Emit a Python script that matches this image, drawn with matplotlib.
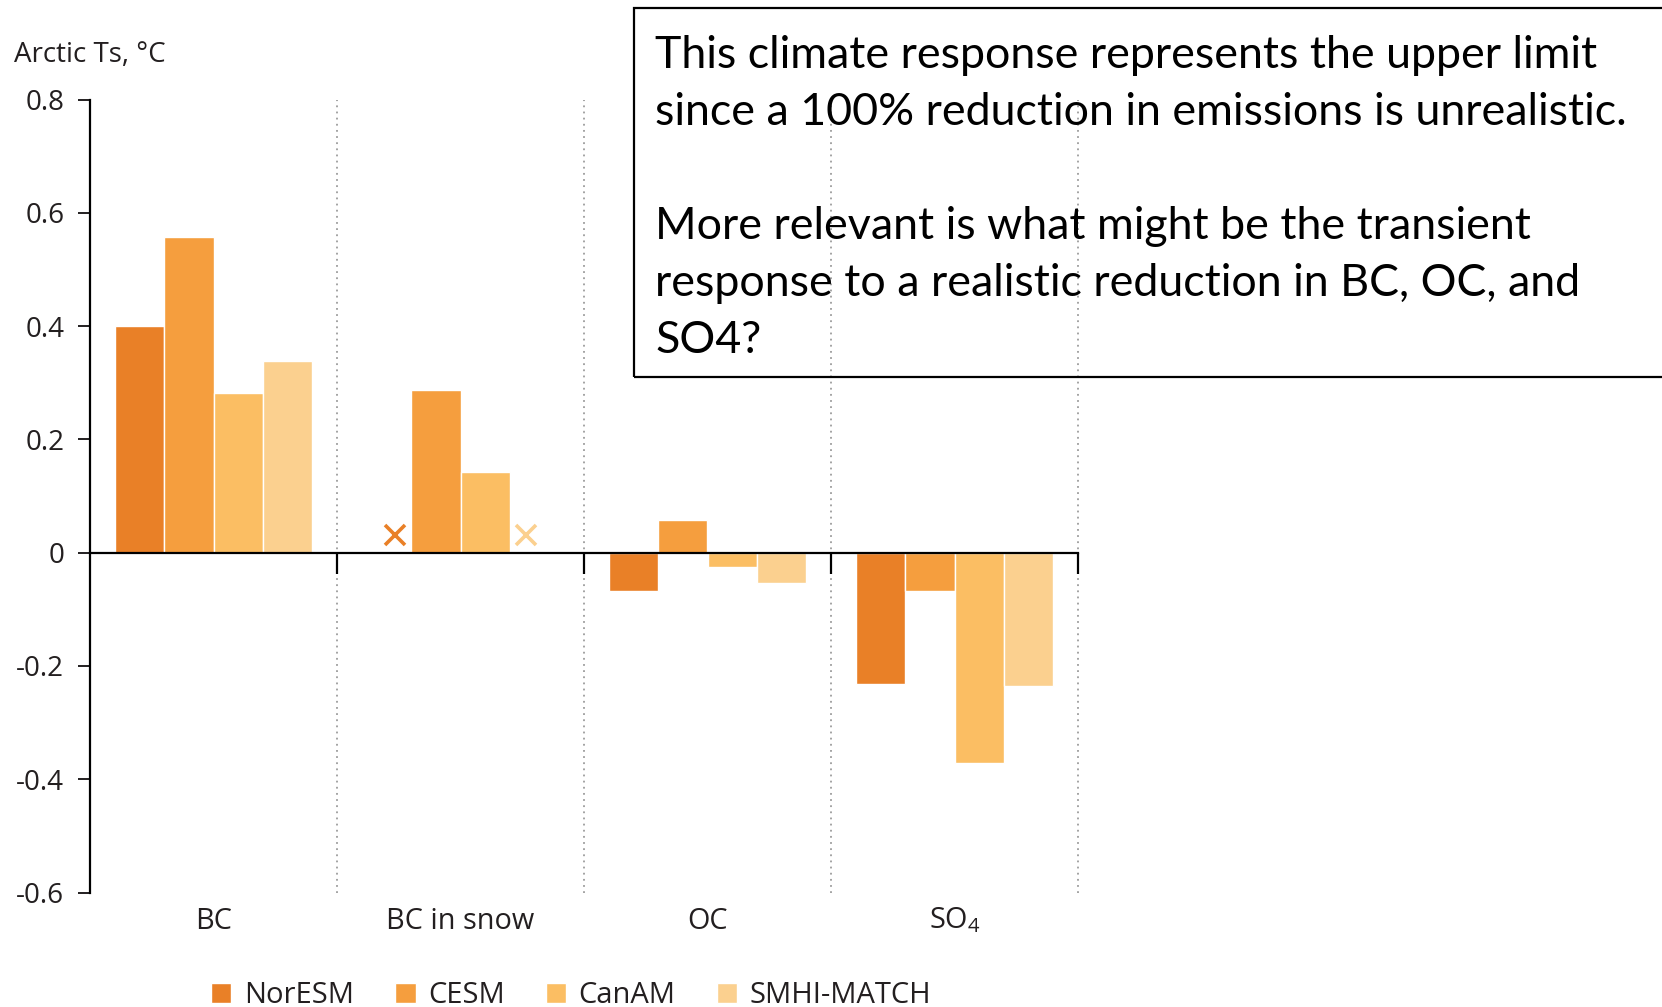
import numpy as np
import matplotlib
matplotlib.use("Agg")
import matplotlib.pyplot as plt
from matplotlib.patches import Rectangle

plt.rcParams['font.family'] = ['Open Sans', 'DejaVu Sans']
plt.rcParams['axes.unicode_minus'] = False
plt.rcParams['mathtext.fontset'] = 'custom'
plt.rcParams['mathtext.rm'] = 'Open Sans'

# Arctic surface temperature response per species and model
categories = ["BC", "BC in snow", "OC", r"SO$_\mathregular{4}$"]
models = ["NorESM", "CESM", "CanAM", "SMHI-MATCH"]
colors = ["#E98027", "#F59E3E", "#FBBE63", "#FBD08F"]
noresm = [0.40, np.nan, -0.068, -0.232]
cesm = [0.558, 0.288, 0.058, -0.068]
canam = [0.282, 0.143, -0.026, -0.372]
smhi = [0.338, np.nan, -0.054, -0.236]
series = [noresm, cesm, canam, smhi]

yticks = [-0.6, -0.4, -0.2, 0.0, 0.2, 0.4, 0.6, 0.8]
ytick_labels = ["-0.6", "-0.4", "-0.2", "0", "0.2", "0.4", "0.6", "0.8"]
ylabel = "Arctic Ts, °C"

note_lines = [
    "This climate response represents the upper limit",
    "since a 100% reduction in emissions is unrealistic.",
    "",
    "More relevant is what might be the transient",
    "response to a realistic reduction in BC, OC, and",
    "SO4?",
]

W, H = 1662, 1007
fig = plt.figure(figsize=(W / 100, H / 100), dpi=100)
ax = fig.add_axes([90 / W, 1 - 892.5 / H, (1078 - 90) / W, (892.5 - 99.6) / H])
ax.set_xlim(-0.5, 3.5)
ax.set_ylim(-0.6, 0.8)

x = np.arange(len(categories))
width = 0.2
offsets = [-0.3, -0.1, 0.1, 0.3]

# group separators
ax.vlines([0.5, 1.5, 2.5, 3.5], -0.6, 0.8, colors="#9c9c9c",
          linestyles=(0, (1, 2.4)), lw=1.3, zorder=0, clip_on=False)

handles = []
for vals, off, col in zip(series, offsets, colors):
    b = ax.bar(x + off, vals, width=width, color=col, edgecolor="white",
               linewidth=1.0, zorder=2)
    handles.append(b)

# models without a BC-in-snow estimate
for vals, off, col in zip(series, offsets, colors):
    for xi, v in zip(x, vals):
        if np.isnan(v):
            ax.plot(xi + off * 0.88, 0.032, marker="x", ms=15, mew=2.6,
                    color=col, zorder=3)

for s in ["top", "right"]:
    ax.spines[s].set_visible(False)
ax.spines["left"].set_bounds(-0.6, 0.8)
ax.spines["left"].set_linewidth(1.6)
ax.spines["bottom"].set_position(("data", 0))
ax.spines["bottom"].set_linewidth(1.6)
ax.spines["bottom"].set_zorder(4)

ax.set_yticks(yticks)
ax.set_yticklabels(ytick_labels)
ax.tick_params(axis="y", direction="out", length=8.5, width=1.4, pad=10,
               labelsize=20, colors="#231f20")
ax.set_xticks([0.5, 1.5, 2.5, 3.5])
ax.set_xticklabels([])
ax.tick_params(axis="x", direction="out", length=15, width=1.6)

for xi, lab in zip(x, categories):
    ax.annotate(lab, (xi, -0.6), xytext=(0, -26), textcoords="offset points",
                ha="center", va="baseline", fontsize=20.8, color="#231f20")

fig.text(14 / W, 1 - 62 / H, ylabel, fontsize=20, va="baseline",
         color="#231f20")

ax.legend(handles, models, loc="upper left",
          bbox_to_anchor=(211 / W, 1 - 981 / H), bbox_transform=fig.transFigure,
          ncol=4, frameon=False, handlelength=0.7, handleheight=0.7,
          handletextpad=0.42, columnspacing=1.42, borderpad=0, borderaxespad=0,
          fontsize=21, labelcolor="#231f20")

# note box
fig.patches.append(Rectangle((634 / W, 1 - 377 / H), 1.0, (377 - 8) / H,
                             transform=fig.transFigure, fill=False,
                             ec="black", lw=1.6))
for i, line in enumerate(note_lines):
    fig.text(655 / W, 1 - (68 + 57 * i) / H, line, fontsize=32.2,
             family=["Lato", "DejaVu Sans"], va="baseline", color="black")

fig.savefig("out.png", dpi=100)
